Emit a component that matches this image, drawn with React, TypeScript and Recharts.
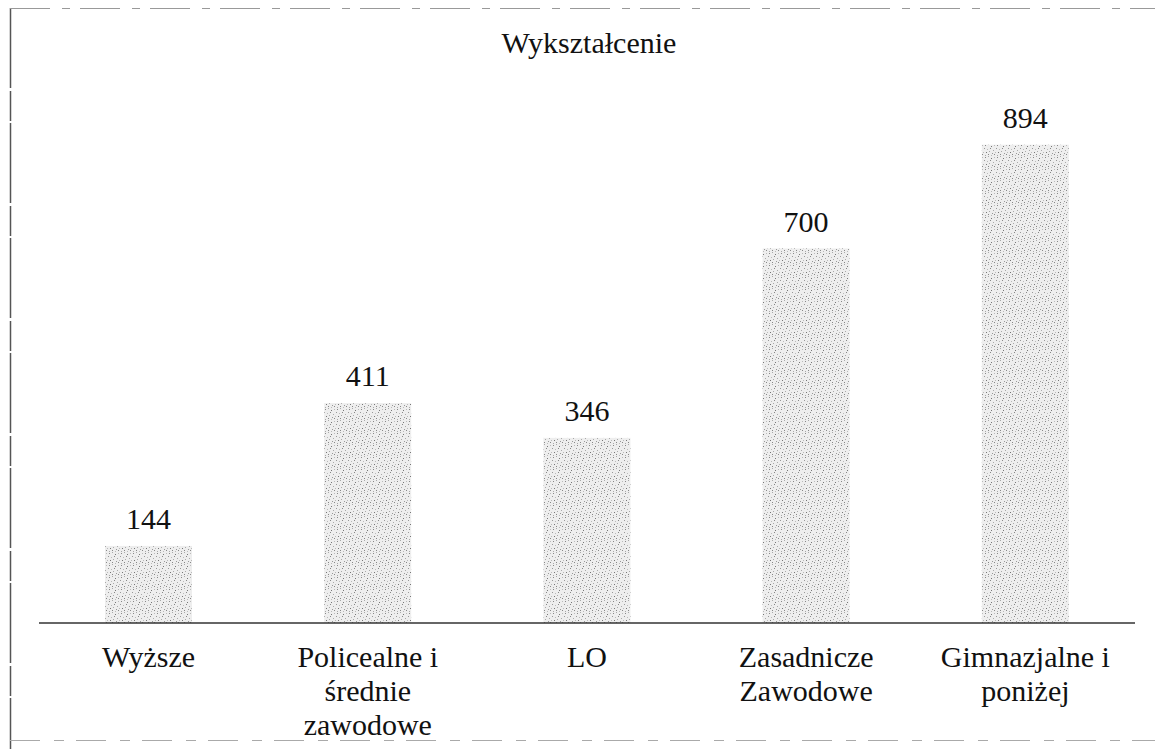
import React from "react";
import { BarChart, Bar, XAxis, YAxis, LabelList } from "recharts";

const categories = ["Wyższe", "Policealne i\nśrednie\nzawodowe", "LO", "Zasadnicze\nZawodowe", "Gimnazjalne i\nponiżej"];
const values = [144, 411, 346, 700, 894];
const title = "Wykształcenie";

const data = categories.map((c, i) => ({ name: c, value: values[i] }));

const FONT = '"Liberation Serif", "Times New Roman", Times, "DejaVu Serif", serif';

const DOTS: [number, number, string][] = [
  [1, 1, "#888"], [4, 0, "#aaa"], [7, 2, "#777"], [10, 1, "#bbb"],
  [0, 4, "#999"], [3, 5, "#bbb"], [6, 4, "#888"], [9, 6, "#aaa"],
  [2, 8, "#777"], [5, 7, "#aaa"], [8, 9, "#999"], [11, 8, "#bbb"],
  [1, 11, "#aaa"], [4, 10, "#888"], [7, 11, "#bbb"], [10, 10, "#888"],
];

const CategoryTick = (props: any) => {
  const { x, y, payload } = props;
  const lines = String(payload.value).split("\n");
  return (
    <text x={x} y={y} textAnchor="middle" style={{ fontFamily: FONT, fontSize: 30 }} fill="#111">
      {lines.map((l: string, i: number) => (
        <tspan key={i} x={x} dy={i === 0 ? 44 : 34}>
          {l}
        </tspan>
      ))}
    </text>
  );
};

const ValueLabel = (props: any) => {
  const { x, y, width, value } = props;
  return (
    <text x={x + width / 2} y={y - 17} textAnchor="middle" style={{ fontFamily: FONT, fontSize: 30 }} fill="#111">
      {value}
    </text>
  );
};

const StippleBar = (props: any) => {
  const { x, y, width, height } = props;
  return (
    <g>
      <rect x={x} y={y} width={width} height={height} fill="url(#stipple)" />
    </g>
  );
};

export default function App() {
  return (
    <div style={{ position: "absolute", left: 0, top: 0, width: 1155, height: 749, background: "#fff", fontFamily: FONT }}>
      <svg width={0} height={0} style={{ position: "absolute" }}>
        <defs>
          <pattern id="stipple" width={12} height={12} patternUnits="userSpaceOnUse">
            <rect width={12} height={12} fill="#eeeeee" />
            {DOTS.map(([dx, dy, c], i) => (
              <rect key={i} x={dx} y={dy} width={1} height={1} fill={c} />
            ))}
          </pattern>
        </defs>
      </svg>
      <BarChart
        width={1155}
        height={749}
        data={data}
        margin={{ top: 88, right: 20, left: 39, bottom: 0 }}
        barCategoryGap={0}
      >
        <YAxis hide domain={[0, 1000]} />
        <XAxis
          dataKey="name"
          height={126}
          interval={0}
          tickLine={false}
          tickSize={0}
          tickMargin={0}
          axisLine={{ stroke: "#333", strokeWidth: 1.5 }}
          tick={<CategoryTick />}
        />
        <Bar dataKey="value" fill="#d9d9d9" barSize={87} shape={<StippleBar />} isAnimationActive={false}>
          <LabelList dataKey="value" content={<ValueLabel />} />
        </Bar>
      </BarChart>
      <svg
        width={1155}
        height={749}
        style={{ position: "absolute", left: 0, top: 0, pointerEvents: "none" }}
      >
        <line x1={10.5} y1={8} x2={10.5} y2={749} stroke="#555" strokeWidth={1.5} strokeDasharray="80 3 30 2" />
        <line x1={10} y1={8.5} x2={1155} y2={8.5} stroke="#999" strokeWidth={1} strokeDasharray="40 12 8 10" />
        <line x1={10} y1={740.5} x2={1155} y2={740.5} stroke="#aaa" strokeWidth={1} strokeDasharray="30 14 10 12" />
        <text x={589} y={53} textAnchor="middle" style={{ fontFamily: FONT, fontSize: 30 }} fill="#111">
          {title}
        </text>
      </svg>
    </div>
  );
}
